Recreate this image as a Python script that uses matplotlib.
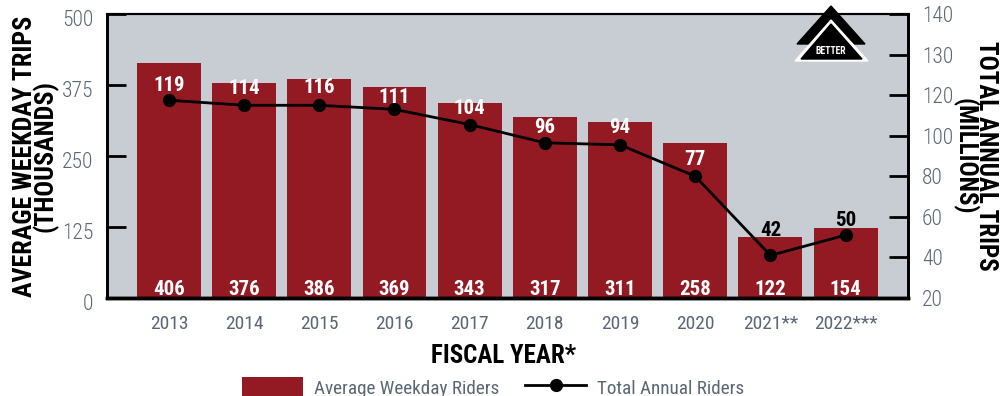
import matplotlib
matplotlib.use('Agg')
import matplotlib.pyplot as plt
from matplotlib.patches import Polygon
from matplotlib.transforms import ScaledTranslation

# Values
years = ['2013', '2014', '2015', '2016', '2017', '2018', '2019', '2020', '2021**', '2022***']
bar_heights = [413, 378, 386, 371, 344, 318, 309, 273, 108, 124]
bar_labels = ['406', '376', '386', '369', '343', '317', '311', '258', '122', '154']
line_values = [117.5, 115, 115, 113, 105.5, 96.5, 95.5, 80, 41, 51]
line_labels = ['119', '114', '116', '111', '104', '96', '94', '77', '42', '50']
label_colors = ['white'] * 8 + ['black'] * 2
left_ticks = [0, 125, 250, 375, 500]
right_ticks = [20, 40, 60, 80, 100, 120, 140, 160]
right_tick_labels = ['20', '40', '60', '80', '100', '120', '130', '140']

# gap between point and its label, in points
label_gaps = [4, 5, 6, 2, 5, 4, 6, 5, 11, 4]

RED = '#931a22'
GREY = '#c8ccd3'
SLATE = '#5b6676'

plt.rcParams['font.family'] = ['Roboto Condensed', 'DejaVu Sans']

fig = plt.figure(figsize=(10.03, 3.96), dpi=100)
ax = fig.add_axes([107 / 1003, 1 - 298 / 396, 801 / 1003, 284 / 396])
ax.set_facecolor(GREY)

x = list(range(len(years)))
bars = ax.bar(x, bar_heights, width=0.85, color=RED, label='Average Weekday Riders', zorder=2)
ax.set_xlim(-0.824, 9.83)
ax.set_ylim(0, 500)
ax.set_xticks(x)
ax.set_xticklabels(years, fontsize=14, color=SLATE)
ax.tick_params(axis='x', length=0, pad=12)
ax.set_yticks(left_ticks)
ax.set_yticklabels(left_ticks, fontsize=15.5, fontweight=300, color=SLATE)
ax.tick_params(axis='y', direction='in', length=14, width=2, pad=10)
ax.set_xlabel('FISCAL YEAR*', fontsize=18, fontweight='bold', labelpad=8, x=0.495)
ax.set_ylabel('AVERAGE WEEKDAY TRIPS\n(THOUSANDS)', fontsize=18.7, fontweight='bold',
              linespacing=0.8, labelpad=2)

ax2 = ax.twinx()
ax2.set_ylim(20, 160)
line, = ax2.plot(x, line_values, color='black', lw=2, marker='o', ms=8.5,
                 label='Total Annual Riders', zorder=3)
ax2.set_yticks(right_ticks)
ax2.set_yticklabels(right_tick_labels, fontsize=15.5, fontweight=300, color=SLATE)
ax2.tick_params(axis='y', direction='in', length=14, width=2, pad=10)
ax2.set_ylabel('TOTAL ANNUAL TRIPS\n(MILLIONS)', fontsize=18, fontweight='bold',
               rotation=270, linespacing=0.8, labelpad=32)

for spine_ax in (ax, ax2):
    spine_ax.spines['top'].set_linewidth(1.5)
    spine_ax.spines['left'].set_linewidth(2)
    spine_ax.spines['right'].set_linewidth(2)
    spine_ax.spines['bottom'].set_linewidth(2.5)

# the left tick labels sit a little below their ticks in the original
shift_left = ScaledTranslation(0, -3 / 72, fig.dpi_scale_trans)
for tick in ax.get_yticklabels():
    tick.set_transform(tick.get_transform() + shift_left)

for i in x:
    ax.annotate(bar_labels[i], (i, 0), xytext=(0, -1), textcoords='offset points',
                ha='center', va='bottom', color='white', fontsize=15,
                fontweight='bold', zorder=5)
    ax2.annotate(line_labels[i], (i, line_values[i]), xytext=(0, label_gaps[i]),
                 textcoords='offset points', ha='center', va='bottom',
                 color=label_colors[i], fontsize=15, fontweight='bold', zorder=5)

# "better" arrow, drawn in pixel coordinates over the top right corner
def px(points):
    return [(a / 1003, 1 - b / 396) for a, b in points]

fig.add_artist(Polygon(px([(831, 6), (797, 44), (865, 44)]), closed=True, color='black',
                       transform=fig.transFigure, zorder=6))
fig.add_artist(Polygon(px([(831, 20), (795, 61), (868, 61)]), closed=True, color='white',
                       transform=fig.transFigure, zorder=7))
fig.add_artist(Polygon(px([(831, 24), (801, 59), (862, 59)]), closed=True, color='black',
                       transform=fig.transFigure, zorder=8))
fig.text(831 / 1003, 1 - 50.5 / 396, 'BETTER', color='white', fontsize=7, fontweight='bold',
         ha='center', va='center', zorder=9)

fig.legend(handles=[bars, line], loc='lower left', bbox_to_anchor=(242 / 1003, -0.004), ncols=2,
           frameon=False, labelcolor=SLATE, handlelength=3.2, handleheight=1.25,
           columnspacing=1.35, handletextpad=0.55, borderpad=0, borderaxespad=0,
           prop={'size': 13.8})

fig.savefig('out.png', dpi=100)
